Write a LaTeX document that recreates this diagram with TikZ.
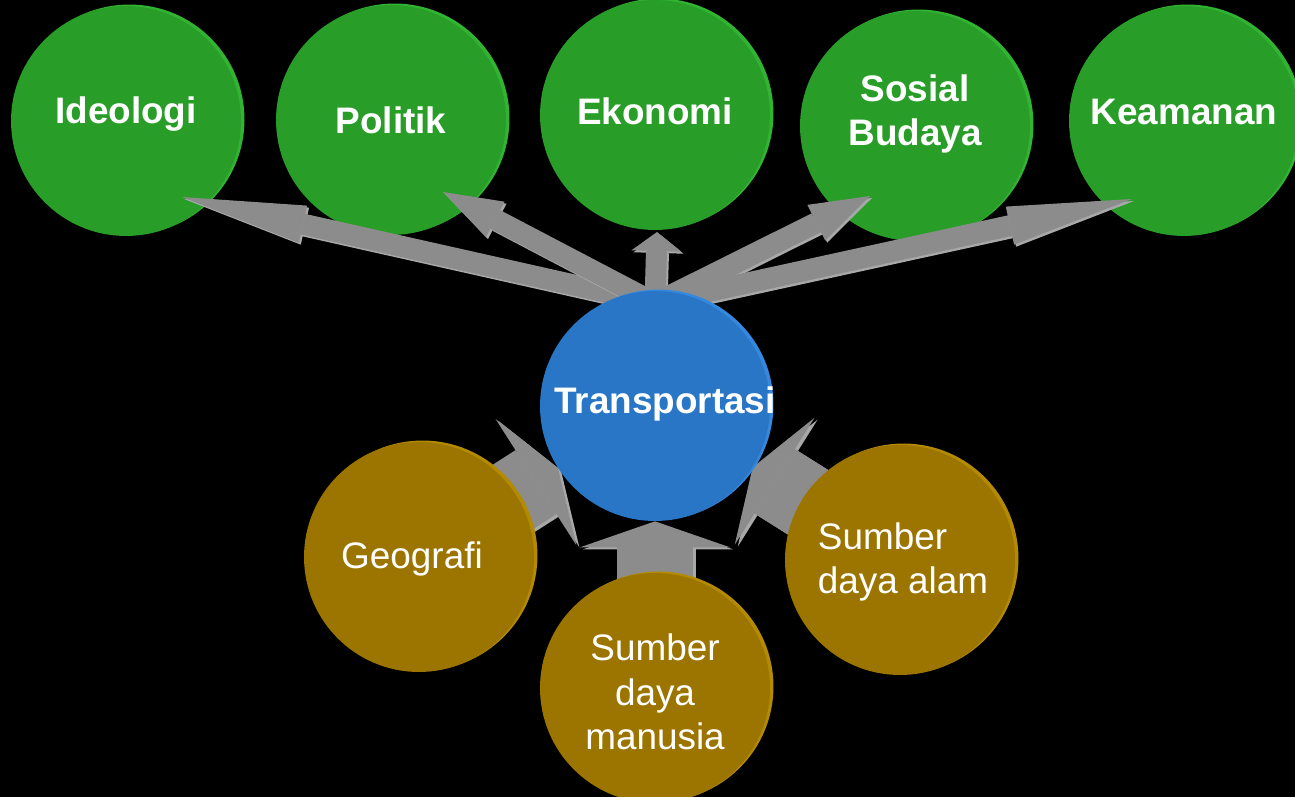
\documentclass[tikz,border=0pt]{standalone}
\usepackage{fontspec}
\setmainfont{Liberation Sans}
\usetikzlibrary{arrows.meta,shadows}

\definecolor{leafgreen}{HTML}{289D28}
\definecolor{rimgreen}{HTML}{31B431}
\definecolor{hubblue}{HTML}{2A76C6}
\definecolor{rimblue}{HTML}{3489DE}
\definecolor{soilgold}{HTML}{9C7500}
\definecolor{rimgold}{HTML}{B48A00}
\definecolor{arrowgray}{HTML}{8C8C8C}
\definecolor{bevelgray}{HTML}{A8A8A8}

\pgfdeclarelayer{back}
\pgfdeclarelayer{greens}
\pgfdeclarelayer{arrows}
\pgfsetlayers{back,greens,arrows,main}

\begin{document}
\begin{tikzpicture}[x=0.02cm, y=-0.02cm,
    bubble/.style={circle, minimum size=4.6cm, inner sep=0pt},
    caption/.style={text=white, align=center, font=\fontsize{21pt}{25.2pt}\selectfont},
    boldcaption/.style={caption, font=\fontsize{21pt}{25.2pt}\selectfont\bfseries},
    aspect/.style={bubble, fill=leafgreen,
        general shadow={fill=rimgreen, shadow xshift=0.07cm, shadow yshift=0.03cm}},
    hub/.style={bubble, fill=hubblue,
        general shadow={fill=rimblue, shadow xshift=0.07cm, shadow yshift=0.03cm}},
    factor/.style={bubble, fill=soilgold,
        general shadow={fill=rimgold, shadow xshift=0.07cm, shadow yshift=0.03cm}},
    thinarrow/.style={draw=arrowgray, line width=0.42cm,
        preaction={draw=bevelgray, line width=0.42cm, transform canvas={shift={(2,2)}}}},
    fatarrow/.style={draw=arrowgray, line width=1.52cm,
        -{Triangle[length=0.52cm, width=3cm, line width=0pt]},
        preaction={draw=bevelgray, line width=1.52cm, transform canvas={shift={(3,2)}}}}]

    \useasboundingbox (0,0) rectangle (1295,797);
    \begin{pgfonlayer}{back}
        \fill[black] (0,0) rectangle (1295,797);
    \end{pgfonlayer}

    % aspects of national life
    \begin{pgfonlayer}{greens}
        \node (ideo) at (126,121) [aspect, label={[boldcaption, yshift=0.14cm]center:Ideologi}] {};
        \node (poli) at (391,120) [aspect, label={[boldcaption]center:Politik}] {};
        \node (ekon) at (655,115) [aspect, label={[boldcaption, yshift=0.08cm]center:Ekonomi}] {};
        \node (sosbud) at (915,126) [aspect, label={[boldcaption, yshift=0.24cm]center:Sosial\\Budaya}] {};
        \node (keam) at (1184,121) [aspect, label={[boldcaption, yshift=0.18cm]center:Keamanan}] {};
    \end{pgfonlayer}

    \node (trans) at (655,406) [hub, label={[boldcaption, xshift=0.2cm, yshift=0.04cm]center:Transportasi}] {};

    % factors
    \node (geo) at (419,557) [factor, label={[caption, xshift=-0.14cm, yshift=-0.04cm]center:Geografi}] {};
    \node (sdm) at (655,688) [factor, label={[caption, yshift=-0.08cm]center:Sumber\\daya\\manusia}] {};
    \node (sda) at (900,560) [factor, label={[caption, align=left, xshift=0.06cm, yshift=-0.04cm]center:Sumber\\daya alam}] {};

    \coordinate (ideo-tip) at (182,197);
    \coordinate (poli-tip) at (443,192);
    \coordinate (ekon-tip) at (657,232);
    \coordinate (sosbud-tip) at (870,196);
    \coordinate (keam-tip) at (1132,199);

    \begin{pgfonlayer}{arrows}
        \draw[thinarrow, -{Triangle[length=2.48cm, width=0.76cm, line width=0pt]}] ([yshift=-0.25cm]trans.north) -- (ideo-tip);
        \draw[thinarrow, -{Triangle[length=1.18cm, width=0.8cm, line width=0pt]}] ([yshift=-0.25cm]trans.north) -- (poli-tip);
        \draw[thinarrow, -{Triangle[length=0.38cm, width=1.0cm, line width=0pt]}] ([yshift=-0.25cm]trans.north) -- (ekon-tip);
        \draw[thinarrow, -{Triangle[length=1.2cm, width=0.8cm, line width=0pt]}] ([yshift=-0.25cm]trans.north) -- (sosbud-tip);
        \draw[thinarrow, -{Triangle[length=2.5cm, width=0.78cm, line width=0pt]}] ([yshift=-0.25cm]trans.north) -- (keam-tip);

        \draw[fatarrow] (geo.center) -- (trans);
        \draw[fatarrow] (sdm.center) -- (trans);
        \draw[fatarrow] (sda.center) -- (trans);
    \end{pgfonlayer}
\end{tikzpicture}
\end{document}
